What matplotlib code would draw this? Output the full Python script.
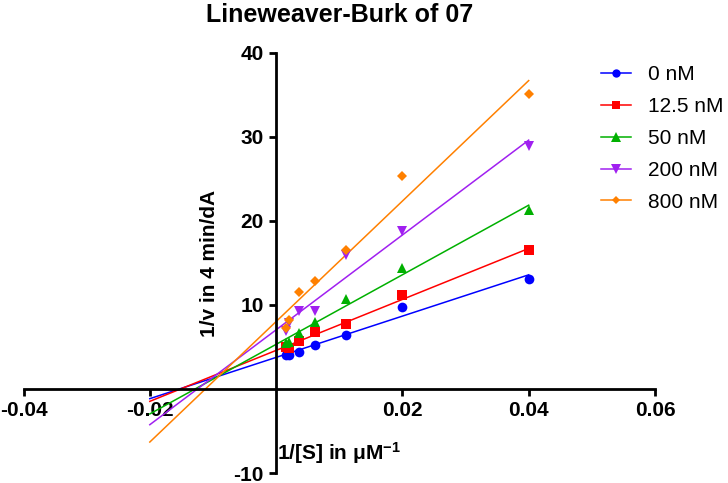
# Lineweaver-Burk plot, five inhibitor concentrations
import matplotlib
matplotlib.use("Agg")
import matplotlib.pyplot as plt
from matplotlib.lines import Line2D
import numpy as np

plt.rcParams['font.family'] = ['Liberation Sans', 'DejaVu Sans']
plt.rcParams['mathtext.fontset'] = 'custom'
plt.rcParams['mathtext.rm'] = 'Liberation Sans'
plt.rcParams['mathtext.bf'] = 'Liberation Sans:bold'
plt.rcParams['mathtext.default'] = 'bf'
plt.rcParams['axes.unicode_minus'] = False

# 1/[S] values (uM^-1)
inv_s = [0.0015, 0.0021, 0.0036, 0.0062, 0.0111, 0.02, 0.04]

# 1/v for each inhibitor concentration
v_0 = [4.1, 4.1, 4.4, 5.2, 6.4, 9.8, 13.1]
v_12 = [5.0, 4.9, 5.7, 6.8, 7.7, 11.2, 16.5]
v_50 = [5.5, 5.6, 6.7, 8.0, 10.7, 14.4, 21.3]
v_200 = [6.9, 7.9, 9.3, 9.3, 15.9, 18.8, 28.9]
v_800 = [7.3, 8.2, 11.5, 12.9, 16.5, 25.3, 35.1]

labels = ['0 nM', '12.5 nM', '50 nM', '200 nM', '800 nM']
colors = ['#0000ff', '#ff0000', '#00b000', '#a020f0', '#ff8000']
markers = ['o', 's', '^', 'v', 'D']
sizes = [7, 7, 7.5, 7.5, 5.5]

# range the fitted lines are drawn over
fit_range = [-0.02, 0.04]

xticks = [-0.04, -0.02, 0.02, 0.04, 0.06]
xtick_labels = ['-0.04', '-0.02', '0.02', '0.04', '0.06']
yticks = [-10, 10, 20, 30, 40]
ytick_labels = ['-10', '10', '20', '30', '40']

fig = plt.figure(figsize=(7.28, 4.83), dpi=100)
ax = fig.add_axes([0.0323, 0.0207, 0.8674, 0.8696])

series = [v_0, v_12, v_50, v_200, v_800]
handles = []
for ys, lab, c, m, ms in zip(series, labels, colors, markers, sizes):
    slope, icpt = np.polyfit(inv_s, ys, 1)
    xf = np.array(fit_range)
    ax.plot(xf, slope * xf + icpt, color=c, lw=1.1, zorder=2)
    ax.plot(inv_s, ys, linestyle='none', marker=m, color=c, ms=ms,
            markeredgewidth=0, zorder=3)
    handles.append(Line2D([], [], color=c, lw=1.1, marker=m, ms=ms - 1,
                          markeredgewidth=0, label=lab))

ax.set_xlim(-0.04, 0.06)
ax.set_ylim(-10, 40)

# axes cross at the origin
ax.spines['left'].set_position(('data', 0))
ax.spines['bottom'].set_position(('data', 0))
ax.spines['top'].set_visible(False)
ax.spines['right'].set_visible(False)
for s in ['left', 'bottom']:
    ax.spines[s].set_linewidth(2)

ax.set_xticks(xticks)
ax.set_xticklabels(xtick_labels, fontsize=15, fontweight='bold')
ax.set_yticks(yticks)
ax.set_yticklabels(ytick_labels, fontsize=15, fontweight='bold')
ax.tick_params(axis='both', direction='out', length=5, width=2, pad=4)

ax.set_xlabel('1/[S] in μM$^{-1}$', fontsize=15, fontweight='bold')
ax.xaxis.set_label_coords(0.5, 0.078)
ax.set_ylabel('1/v in 4 min/dA', fontsize=15, fontweight='bold')
ax.yaxis.set_label_coords(0.31, 0.5)

ax.set_title('Lineweaver-Burk of 07', fontsize=18, fontweight='bold', pad=22)

leg = fig.legend(handles=handles, loc='upper left', bbox_to_anchor=(0.80, 0.904),
                 frameon=False, fontsize=15, handlelength=1.45, handletextpad=0.8,
                 labelspacing=0.62)

fig.savefig('out.png', dpi=100)
